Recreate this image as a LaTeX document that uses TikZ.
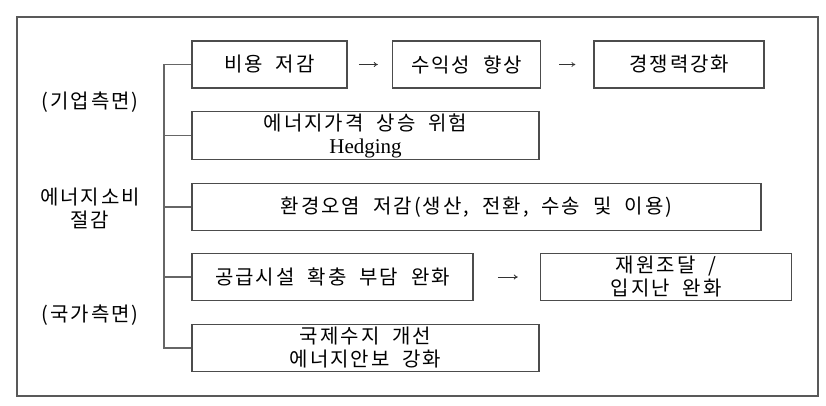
\documentclass[tikz,border=0pt]{standalone}
\usepackage{fontspec}
\setmainfont{Noto Sans CJK KR}[LetterSpace=10, WordSpace=2]
\newfontfamily\latinfont{Liberation Serif}
\usepackage{tikz}
\usetikzlibrary{arrows.meta}
\usetikzlibrary{positioning}

\begin{document}
\begin{tikzpicture}[
            x=1pt, y=-1pt,
            box/.style = {draw=black!70, line width=1.6pt, minimum height=47pt, inner sep=2pt, align=center, font=\fontsize{20}{23}\selectfont},
            sidelabel/.style = {align=center, font=\fontsize{20}{23}\selectfont},
            branch/.style = {draw=black!60, line width=1.4pt},
            flow/.style = {draw=black!80, line width=0.8pt, -{To[length=4pt, width=5pt]}}
          ]
          \useasboundingbox (0,0) rectangle (826,405);
          \draw[draw=black!65, line width=1.8pt] (17,17) rectangle (818,396);

          % top row
          \node[box, minimum width=155pt] (cost) at (269.5,64.5) {비용 저감};
          \node[box, minimum width=148pt, right=44pt of cost] (profit) {수익성 향상};
          \node[box, minimum width=170pt, right=52pt of profit] (compete) {경쟁력강화};

          \node[box, minimum width=347pt] (hedge) at (365.5,135.5) {에너지가격 상승 위험\\{\latinfont\fontsize{21}{23}\selectfont Hedging}};
          \node[box, minimum width=569pt] (env) at (476.5,207) {환경오염 저감(생산, 전환, 수송 및 이용)};
          \node[box, minimum width=281pt] (supply) at (332.5,277) {공급시설 확충 부담 완화};
          \node[box, minimum width=251pt, right=66pt of supply] (fund) {재원조달 /\\입지난 완화};
          \node[box, minimum width=347pt] (trade) at (365.5,348) {국제수지 개선\\에너지안보 강화};

          \node[sidelabel] (firm) at (90,102) {(기업측면)};
          \node[sidelabel] (saving) at (90,208) {에너지소비\\절감};
          \node[sidelabel] (nation) at (90,315) {(국가측면)};

          \coordinate (spine) at (164,65);
          \draw[branch] (cost.west) -- (cost.west -| spine) |- (trade.west);
          \draw[branch] (hedge.west) -- (hedge.west -| spine);
          \draw[branch] (env.west) -- (env.west -| spine);
          \draw[branch] (supply.west) -- (supply.west -| spine);

          \draw[flow, shorten <=11pt, shorten >=14pt] (cost) -- (profit);
          \draw[flow, shorten <=18pt, shorten >=18pt] (profit) -- (compete);
          \draw[flow, shorten <=24pt, shorten >=22pt] (supply) -- (fund);
        \end{tikzpicture}
\end{document}
